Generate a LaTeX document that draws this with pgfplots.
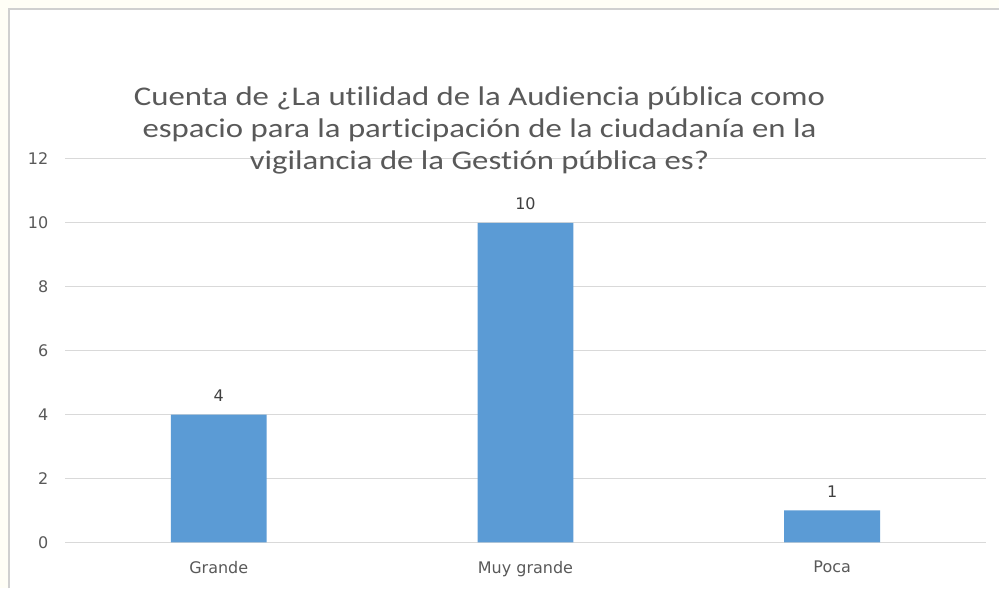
\documentclass[border=0pt]{standalone}
\usepackage{pgfplots}
\pgfplotsset{compat=1.18}
\usepackage{fontspec}
\setmainfont{DejaVu Sans}
\newfontfamily\titlefont[FakeStretch=1.215,Ligatures=NoCommon]{Carlito}
\definecolor{barblue}{HTML}{5B9BD5}
\definecolor{txtgray}{HTML}{595959}
\definecolor{lblgray}{HTML}{404040}
\definecolor{gridgray}{HTML}{D9D9D9}
\definecolor{cream}{HTML}{FFFEF6}
\definecolor{bordergray}{HTML}{D0D0D0}
\begin{document}
\begin{tikzpicture}[x=1pt,y=1pt]
\fill[cream] (0,0) rectangle (1000,589);
\fill[white] (9,0) rectangle (1000,580);
\draw[bordergray,line width=2pt] (9,0) -- (9,580) -- (1000,580);
\begin{axis}[
  at={(65.5pt,46pt)}, anchor=south west,
  scale only axis, width=921pt, height=384pt,
  xmin=-0.5, xmax=2.5, ymin=0, ymax=12,
  ytick={0,2,...,12},
  xtick=data, xticklabels={Grande,Muy grande,Poca},
  ybar, bar width=96pt,
  ymajorgrids, grid style={gridgray, line width=1pt},
  axis line style={draw=none}, major tick style={draw=none},
  /pgf/number format/assume math mode=true,
  yticklabel style={font=\fontsize{16}{18}\selectfont, text=txtgray, anchor=east, inner sep=0pt, xshift=-17pt},
  xticklabel style={font=\fontsize{16}{18}\selectfont, text=txtgray, anchor=north, inner sep=0pt, yshift=-14pt},
  nodes near coords,
  nodes near coords style={font=\fontsize{16}{18}\selectfont, text=lblgray, anchor=south, inner sep=0pt, yshift=13pt},
  clip=false,
]
\addplot[fill=barblue, draw=none] coordinates {(0,4) (1,10) (2,1)};
\end{axis}
\node[font=\titlefont\fontsize{27}{32}\selectfont, text=txtgray, align=center, anchor=base, inner sep=0pt] at (480,419)
 {Cuenta de ¿La utilidad de la Audiencia pública como\\espacio para la participación de la ciudadanía en la\\vigilancia de la Gestión pública es?};
\end{tikzpicture}
\end{document}
